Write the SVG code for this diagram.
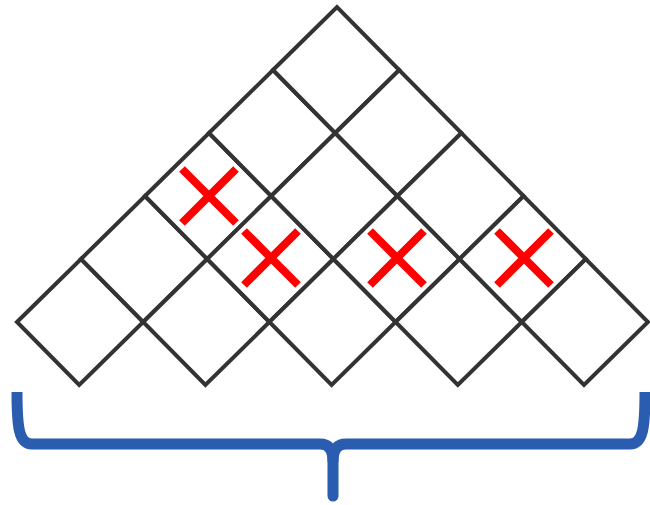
<svg xmlns="http://www.w3.org/2000/svg" width="650" height="505" viewBox="0 0 650 505">
<defs>
<style>
.cell{fill:#fff;stroke:#333;stroke-width:4;stroke-linejoin:miter}
.x{stroke:#ff0000;stroke-width:8;stroke-linecap:butt;fill:none}
.brace{stroke:#2a5cb0;stroke-width:11;fill:none;stroke-linejoin:round}
</style>
<path id="xmark" class="x" d="M-27,-27 L27,27 M27,-27 L-27,27"/>
</defs>
<rect width="650" height="505" fill="#fff"/>
<g id="cell-0-0"><polygon class="cell" points="17,322 81,259 143.2,322 79.2,385"/></g>
<g id="cell-1-0"><polygon class="cell" points="81,259 145,196 207.2,259 143.2,322"/></g>
<g id="cell-1-1"><polygon class="cell" points="143.2,322 207.2,259 269.4,322 205.4,385"/></g>
<g id="cell-2-0"><polygon class="cell" points="145,196 209,133 271.2,196 207.2,259"/></g>
<g id="cell-2-1"><polygon class="cell" points="207.2,259 271.2,196 333.4,259 269.4,322"/></g>
<g id="cell-2-2"><polygon class="cell" points="269.4,322 333.4,259 395.6,322 331.6,385"/></g>
<g id="cell-3-0"><polygon class="cell" points="209,133 273,70 335.2,133 271.2,196"/></g>
<g id="cell-3-1"><polygon class="cell" points="271.2,196 335.2,133 397.4,196 333.4,259"/></g>
<g id="cell-3-2"><polygon class="cell" points="333.4,259 397.4,196 459.6,259 395.6,322"/></g>
<g id="cell-3-3"><polygon class="cell" points="395.6,322 459.6,259 521.8,322 457.8,385"/></g>
<g id="cell-4-0"><polygon class="cell" points="273,70 337,7 399.2,70 335.2,133"/></g>
<g id="cell-4-1"><polygon class="cell" points="335.2,133 399.2,70 461.4,133 397.4,196"/></g>
<g id="cell-4-2"><polygon class="cell" points="397.4,196 461.4,133 523.6,196 459.6,259"/></g>
<g id="cell-4-3"><polygon class="cell" points="459.6,259 523.6,196 585.8,259 521.8,322"/></g>
<g id="cell-4-4"><polygon class="cell" points="521.8,322 585.8,259 648,322 584,385"/></g>
<g id="marks">
<use href="#xmark" x="209" y="196"/>
<use href="#xmark" x="271" y="258"/>
<use href="#xmark" x="397" y="258"/>
<use href="#xmark" x="524" y="258"/>
</g>
<g id="connectors">
<path class="brace" d="M17,392 C17,428 19,444 32,444 L320,444 C329,444 333,450 333,462 M333,462 C333,450 337,444 346,444 L630,444 C643,444 645,428 645,392"/>
<path class="brace" style="stroke-linecap:round" d="M333,458 L333,496"/>
</g>
</svg>
